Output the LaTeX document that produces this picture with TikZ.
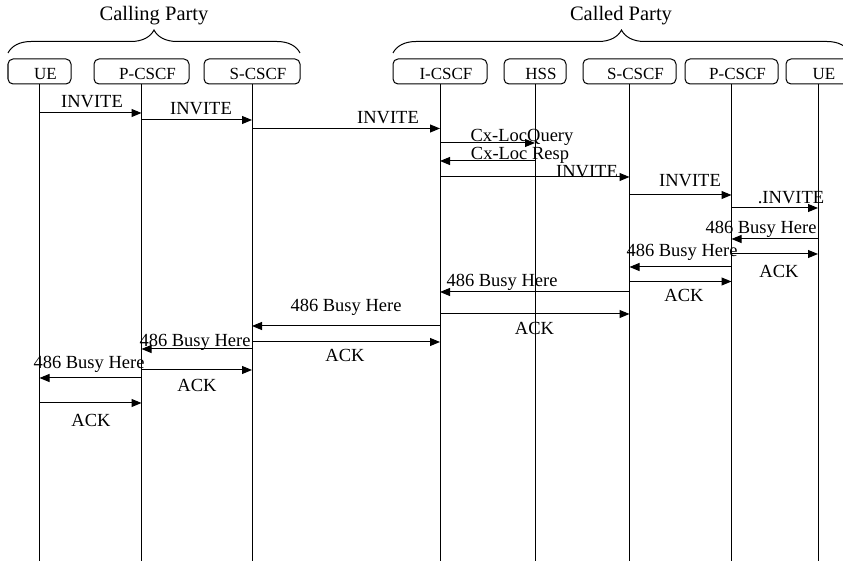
\documentclass[tikz,border=0pt]{standalone}
\usepackage{fontspec}
\setmainfont{Liberation Serif}
\usetikzlibrary{arrows.meta,positioning,decorations.pathreplacing}

\begin{document}
\begin{tikzpicture}[x=0.5pt,y=-0.5pt,
  box/.style={draw,rounded corners=2.5pt,minimum height=12.5pt,inner sep=0pt,outer sep=0pt,line width=0.5pt,
    font=\fontsize{8.5}{10}\selectfont,text height=8.1pt,text depth=0pt,execute at begin node=\hspace*{6pt}},
  life/.style={line width=0.5pt},
  msg/.style={line width=0.5pt,-{Triangle[length=5pt,width=4pt]}},
  lbl/.style={anchor=base,inner sep=0pt,font=\fontsize{9.25}{11}\selectfont},
  party/.style={anchor=base,inner sep=0pt,font=\fontsize{10.25}{12}\selectfont},
  brc/.style={decorate,decoration={brace,amplitude=11.5pt},line width=0.5pt}
]
  \useasboundingbox (0,0) rectangle (843,561);

  % entities
  \node[box,minimum width=31.5pt] (ue1) at (39.5,71.5) {UE};
  \node[box,minimum width=47.5pt,right=11.5pt of ue1] (pc1) {P-CSCF};
  \node[box,minimum width=48pt,right=7.5pt of pc1] (sc1) {S-CSCF};
  \node[box,minimum width=47pt,right=46.5pt of sc1] (ic) {I-CSCF};
  \node[box,minimum width=31pt,right=8.5pt of ic] (hss) {HSS};
  \node[box,minimum width=46.5pt,right=8.5pt of hss] (sc2) {S-CSCF};
  \node[box,minimum width=46.5pt,right=4.5pt of sc2] (pc2) {P-CSCF};
  \node[box,minimum width=32pt,right=4pt of pc2] (ue2) {UE};

  % parties
  \draw[brc] ([yshift=3pt]ue1.north west) -- ([yshift=3pt]sc1.north east);
  \draw[brc] ([yshift=3pt]ic.north west) -- ([yshift=3pt]ue2.north east);
  \node[party] (calling) at (154,21) {Calling Party};
  \node[party] (called) at (621,21) {Called Party};

  % lifelines
  \foreach \n in {ue1,pc1,sc1,ic,hss,sc2,pc2,ue2}
    \draw[life] (\n.south) -- (\n.south |- 0,561);

  % messages
  \draw[msg] (ue1 |- 0,113) -- (pc1 |- 0,113);
  \node[lbl] (m1) at (92,108) {INVITE};
  \draw[msg] (pc1 |- 0,120) -- (sc1 |- 0,120);
  \node[lbl] (m2) at (201,115) {INVITE};
  \draw[msg] (sc1 |- 0,128.5) -- (ic |- 0,128.5);
  \node[lbl] (m3) at (388,124) {INVITE};
  \draw[msg] (ic |- 0,143) -- (hss |- 0,143);
  \node[lbl] (m4) at (522,142) {Cx-LocQuery};
  \draw[msg] (hss |- 0,161) -- (ic |- 0,161);
  \node[lbl] (m5) at (520,160) {Cx-Loc Resp};
  \draw[msg] (ic |- 0,177) -- (sc2 |- 0,177);
  \node[lbl] (m6) at (587,177.5) {INVITE};
  \draw[msg] (sc2 |- 0,195) -- (pc2 |- 0,195);
  \node[lbl] (m7) at (690,187) {INVITE};
  \draw[msg] (pc2 |- 0,208) -- (ue2 |- 0,208);
  \node[lbl] (m8) at (791,204) {.INVITE};
  \draw[msg] (ue2 |- 0,239) -- (pc2 |- 0,239);
  \node[lbl] (m9) at (761,234) {486 Busy Here};
  \draw[msg] (pc2 |- 0,254) -- (ue2 |- 0,254);
  \node[lbl] (m10) at (779,278) {ACK};
  \draw[msg] (pc2 |- 0,267) -- (sc2 |- 0,267);
  \node[lbl] (m11) at (682,257) {486 Busy Here};
  \draw[msg] (sc2 |- 0,281.5) -- (pc2 |- 0,281.5);
  \node[lbl] (m12) at (684,302) {ACK};
  \draw[msg] (sc2 |- 0,292) -- (ic |- 0,292);
  \node[lbl] (m13) at (502,287) {486 Busy Here};
  \draw[msg] (ic |- 0,314) -- (sc2 |- 0,314);
  \node[lbl] (m14) at (534.5,335) {ACK};
  \draw[msg] (ic |- 0,326) -- (sc1 |- 0,326);
  \node[lbl] (m15) at (346,312) {486 Busy Here};
  \draw[msg] (sc1 |- 0,342) -- (ic |- 0,342);
  \node[lbl] (m16) at (345,362) {ACK};
  \draw[msg] (sc1 |- 0,349) -- (pc1 |- 0,349);
  \node[lbl] (m17) at (195,347) {486 Busy Here};
  \draw[msg] (pc1 |- 0,370) -- (sc1 |- 0,370);
  \node[lbl] (m18) at (197,392) {ACK};
  \draw[msg] (pc1 |- 0,378) -- (ue1 |- 0,378);
  \node[lbl] (m19) at (89,369) {486 Busy Here};
  \draw[msg] (ue1 |- 0,403) -- (pc1 |- 0,403);
  \node[lbl] (m20) at (91,427) {ACK};
\end{tikzpicture}
\end{document}
